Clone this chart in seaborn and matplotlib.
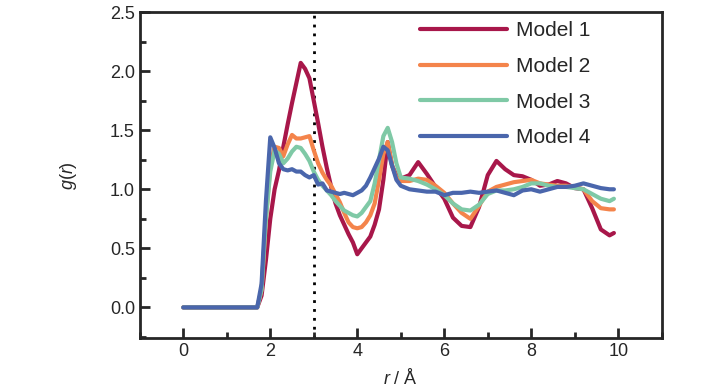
import numpy as np
import pandas as pd
import seaborn as sns
import matplotlib.pyplot as plt
from matplotlib.ticker import MultipleLocator

# radial distance grid (Angstrom), shared by all models
r = [0.0, 1.7, 1.8, 1.9, 2.0, 2.1, 2.2, 2.3, 2.4, 2.5, 2.6, 2.7, 2.8, 2.9,
     3.0, 3.1, 3.2, 3.3, 3.4, 3.5, 3.6, 3.7, 3.8, 3.9, 4.0, 4.1, 4.2, 4.3,
     4.4, 4.5, 4.6, 4.7, 4.8, 4.9, 5.0, 5.2, 5.4, 5.6, 5.8, 6.0, 6.2, 6.4,
     6.6, 6.8, 7.0, 7.2, 7.4, 7.6, 7.8, 8.0, 8.2, 8.4, 8.6, 8.8, 9.0, 9.2,
     9.4, 9.6, 9.8, 9.9]

# g(r)
model_1 = [0.0, 0.0, 0.1, 0.4, 0.75, 1.0, 1.16, 1.36, 1.55, 1.73, 1.9, 2.07, 2.02, 1.94,
           1.75, 1.56, 1.36, 1.18, 1.02, 0.88, 0.78, 0.7, 0.62, 0.55, 0.45, 0.5, 0.55, 0.6,
           0.7, 0.83, 1.08, 1.4, 1.2, 1.12, 1.09, 1.12, 1.23, 1.13, 1.02, 0.92, 0.76, 0.69,
           0.68, 0.85, 1.12, 1.24, 1.17, 1.12, 1.11, 1.08, 1.03, 1.04, 1.07, 1.05, 1.01, 1.0,
           0.84, 0.66, 0.61, 0.63]
model_2 = [0.0, 0.0, 0.15, 0.75, 1.2, 1.36, 1.35, 1.28, 1.38, 1.46, 1.43, 1.43, 1.44, 1.45,
           1.33, 1.22, 1.14, 1.08, 1.03, 0.96, 0.89, 0.8, 0.72, 0.68, 0.67, 0.68, 0.72, 0.78,
           0.88, 1.08, 1.3, 1.4, 1.2, 1.1, 1.07, 1.07, 1.09, 1.08, 1.03, 0.97, 0.88, 0.8,
           0.75, 0.86, 0.98, 1.02, 1.04, 1.06, 1.07, 1.08, 1.05, 1.04, 1.03, 1.03, 1.02, 1.0,
           0.9, 0.84, 0.83, 0.83]
model_3 = [0.0, 0.0, 0.15, 0.75, 1.15, 1.33, 1.3, 1.22, 1.26, 1.32, 1.36, 1.35, 1.3, 1.24,
           1.15, 1.08, 1.03, 0.99, 0.95, 0.9, 0.86, 0.82, 0.8, 0.78, 0.77, 0.8, 0.85, 0.9,
           1.05, 1.25, 1.45, 1.52, 1.4, 1.22, 1.1, 1.09, 1.07, 1.04, 1.0, 0.95, 0.88, 0.83,
           0.82, 0.87, 0.96, 0.99, 0.99, 1.0, 1.02, 1.05, 1.05, 1.03, 1.02, 1.02, 1.01, 1.0,
           0.96, 0.92, 0.9, 0.92]
model_4 = [0.0, 0.0, 0.2, 0.9, 1.44, 1.35, 1.22, 1.17, 1.16, 1.17, 1.15, 1.15, 1.12, 1.1,
           1.12, 1.04, 1.05, 0.99, 0.98, 0.97, 0.96, 0.97, 0.96, 0.95, 0.97, 0.99, 1.03, 1.1,
           1.18, 1.26, 1.36, 1.33, 1.2, 1.08, 1.03, 1.0, 0.99, 0.98, 0.98, 0.95, 0.97, 0.97,
           0.98, 0.97, 0.98, 0.99, 0.97, 0.95, 0.99, 1.0, 0.98, 1.0, 1.02, 1.02, 1.03, 1.05,
           1.03, 1.01, 1.0, 1.0]

models = ["Model 1", "Model 2", "Model 3", "Model 4"]
colors = ["#a8174a", "#f4844b", "#7fc9a6", "#4a66ac"]

# long format table for seaborn
df = pd.DataFrame({"r": r * 4,
                   "g": model_1 + model_2 + model_3 + model_4,
                   "model": [m for m in models for _ in r]})

sns.set_style("ticks")
plt.rcParams["font.family"] = ["Liberation Sans Narrow", "Liberation Sans", "DejaVu Sans"]
plt.rcParams["mathtext.fontset"] = "custom"
plt.rcParams["mathtext.it"] = "Liberation Sans:italic"
plt.rcParams["mathtext.rm"] = "Liberation Sans"

fig = plt.figure(figsize=(7.28, 3.9), dpi=100)
ax = fig.add_axes([0.192, 0.133, 0.717, 0.836])

sns.lineplot(data=df, x="r", y="g", hue="model", palette=dict(zip(models, colors)),
             linewidth=3, ax=ax, sort=False)

# dotted marker at r = 3
ax.axvline(3, color="black", linestyle=(0, (1, 2.2)), linewidth=2, zorder=0)

ax.set_xlim(-1, 11)
ax.set_ylim(-0.26, 2.5)
ax.xaxis.set_major_locator(MultipleLocator(2))
ax.xaxis.set_minor_locator(MultipleLocator(1))
ax.yaxis.set_major_locator(MultipleLocator(0.5))
ax.yaxis.set_minor_locator(MultipleLocator(0.25))
ax.tick_params(which="major", direction="in", length=7, width=2, labelsize=13)
ax.tick_params(which="minor", direction="in", length=4, width=2)
for s in ax.spines.values():
    s.set_linewidth(2)

ax.set_xlabel("$r$ / Å", fontsize=13, labelpad=6)
ax.set_ylabel("$g$($r$)", fontsize=13, labelpad=22)

ax.legend(loc="upper left", bbox_to_anchor=(0.536, 0.972), frameon=False, fontsize=15,
          handlelength=4.2, handletextpad=0.45, labelspacing=0.8, borderpad=0,
          borderaxespad=0)

fig.savefig("out.png", dpi=100)
